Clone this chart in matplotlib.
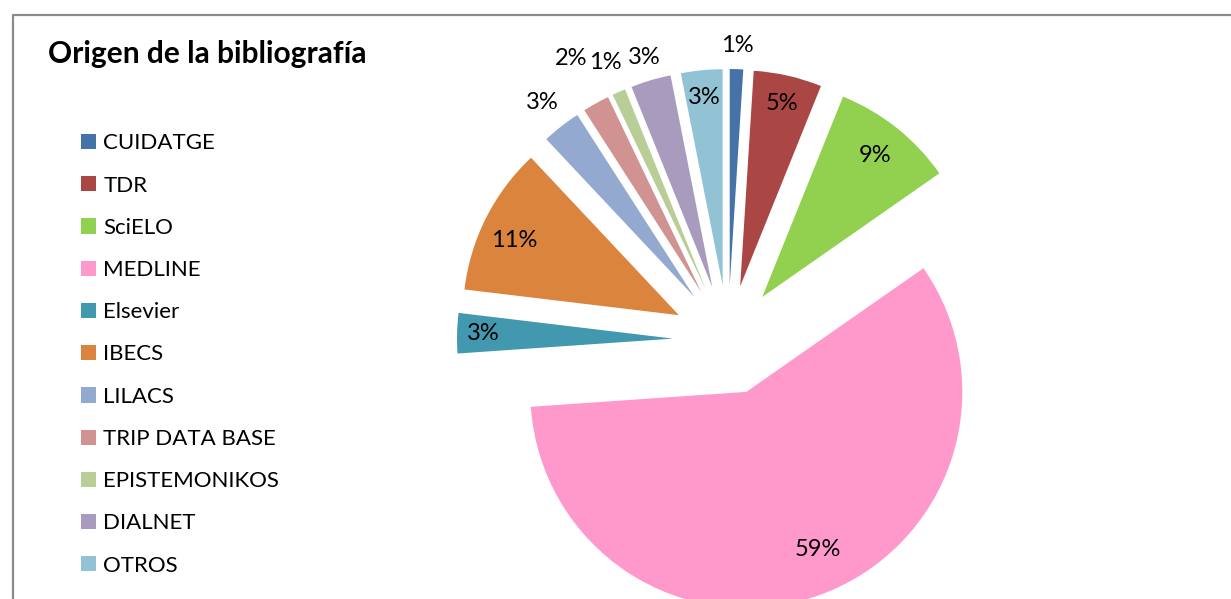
import numpy as np
import matplotlib.pyplot as plt
from matplotlib.lines import Line2D

fuentes = ['CUIDATGE', 'TDR', 'SciELO', 'MEDLINE', 'Elsevier', 'IBECS', 'LILACS',
           'TRIP DATA BASE', 'EPISTEMONIKOS', 'DIALNET', 'OTROS']
porcentajes = [1.0, 5.1, 9.2, 58.6, 3.0, 11.1, 2.9, 2.0, 1.0, 3.0, 3.1]

colores = ['#4572A7', '#AA4643', '#92D050', '#FF99CC', '#4198AF', '#DB843D',
           '#93A9CF', '#D19392', '#B9CD96', '#A99BBD', '#92C3D4']
# posicion de cada etiqueta: distancia (en radios) desde el vertice de su porcion
# y pequeño giro (grados) respecto a la bisectriz
dist_etiqueta = [1.11, 0.87, 0.84, 0.80, 0.88, 0.84, 1.14, 1.24, 1.15, 1.11, 0.875]
giro_etiqueta = [0, 0, 0, 5, 0, 2.4, 0, 0, 0, 0, 0]

plt.rcParams['font.family'] = ['Lato', 'DejaVu Sans']

W, H = 1231, 599
R = 216
fig = plt.figure(figsize=(W / 100, H / 100), dpi=100)
ax = fig.add_axes([0, 0, 1, 1])

wedges, _ = ax.pie(porcentajes, colors=colores, startangle=90, counterclock=False,
                   explode=[55] * len(porcentajes), radius=R, center=(728, H - 340))

total = sum(porcentajes)
for w, v, d, g in zip(wedges, porcentajes, dist_etiqueta, giro_etiqueta):
    ang = np.deg2rad((w.theta1 + w.theta2) / 2 + g)
    x = w.center[0] + d * R * np.cos(ang)
    y = w.center[1] + d * R * np.sin(ang)
    ax.text(x, y, f'{100 * v / total:.0f}%', ha='center', va='center', fontsize=17)

ax.set_xlim(0, W)
ax.set_ylim(0, H)
ax.set_aspect('auto')
ax.axis('off')

fig.text(48 / W, 1 - 63 / H, 'Origen de la bibliografía', fontsize=21.5,
         fontweight='bold', ha='left', va='baseline')

fig.legend(wedges, fuentes, loc='center left', bbox_to_anchor=(81 / W, 1 - 354.5 / H),
           bbox_transform=fig.transFigure, frameon=False, fontsize=16,
           handlelength=0.68, handleheight=0.68, handletextpad=0.32,
           labelspacing=1.0, borderpad=0, borderaxespad=0)

# marco del grafico (solo arriba e izquierda visibles)
fig.add_artist(Line2D([13 / W, 13 / W, 1], [0, 1 - 14.5 / H, 1 - 14.5 / H],
                      transform=fig.transFigure, color='#8a8a8a', lw=1.6))

fig.savefig('out.png', dpi=100)
